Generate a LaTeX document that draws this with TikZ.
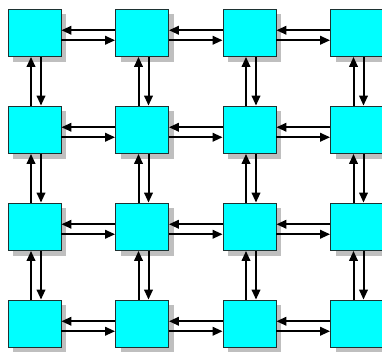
\documentclass[tikz,border=0pt]{standalone}
\usepackage{tikz}
\usetikzlibrary{arrows.meta,shadows}
\definecolor{cellcyan}{RGB}{0,255,255}
\definecolor{cellline}{RGB}{30,50,50}
\tikzset{
  cell/.style={rectangle,draw=cellline,line width=0.8pt,fill=cellcyan,
    minimum width=53pt,minimum height=47.5pt,inner sep=0pt,
    general shadow={shadow xshift=5pt,shadow yshift=-5pt,fill=black!25}},
  link/.style={-{Triangle[length=10pt,width=8.5pt]},line width=2pt,draw=black}
}

\begin{document}
\begin{tikzpicture}[x=1pt,y=-1pt]

\useasboundingbox (0,0) rectangle (382,351);

% mesh of cells
\foreach \i in {0,...,3}
  \foreach \j in {0,...,3}
    \node[cell] (c-\i-\j) at (34.5+107.5*\i,32.75+97*\j) {};

% horizontal pairs
\foreach \i [count=\k] in {0,1,2}
  \foreach \j in {0,...,3} {
    \draw[link] ([yshift=2.5pt]c-\k-\j.west) -- ([yshift=2.5pt]c-\i-\j.east);
    \draw[link] ([yshift=-7.5pt]c-\i-\j.east) -- ([yshift=-7.5pt]c-\k-\j.west);
  }

% vertical pairs
\foreach \j [count=\k] in {0,1,2}
  \foreach \i in {0,...,3} {
    \draw[link] ([xshift=-3.5pt]c-\i-\k.north) -- ([xshift=-3.5pt]c-\i-\j.south);
    \draw[link] ([xshift=6.5pt]c-\i-\j.south) -- ([xshift=6.5pt]c-\i-\k.north);
  }

\end{tikzpicture}
\end{document}
